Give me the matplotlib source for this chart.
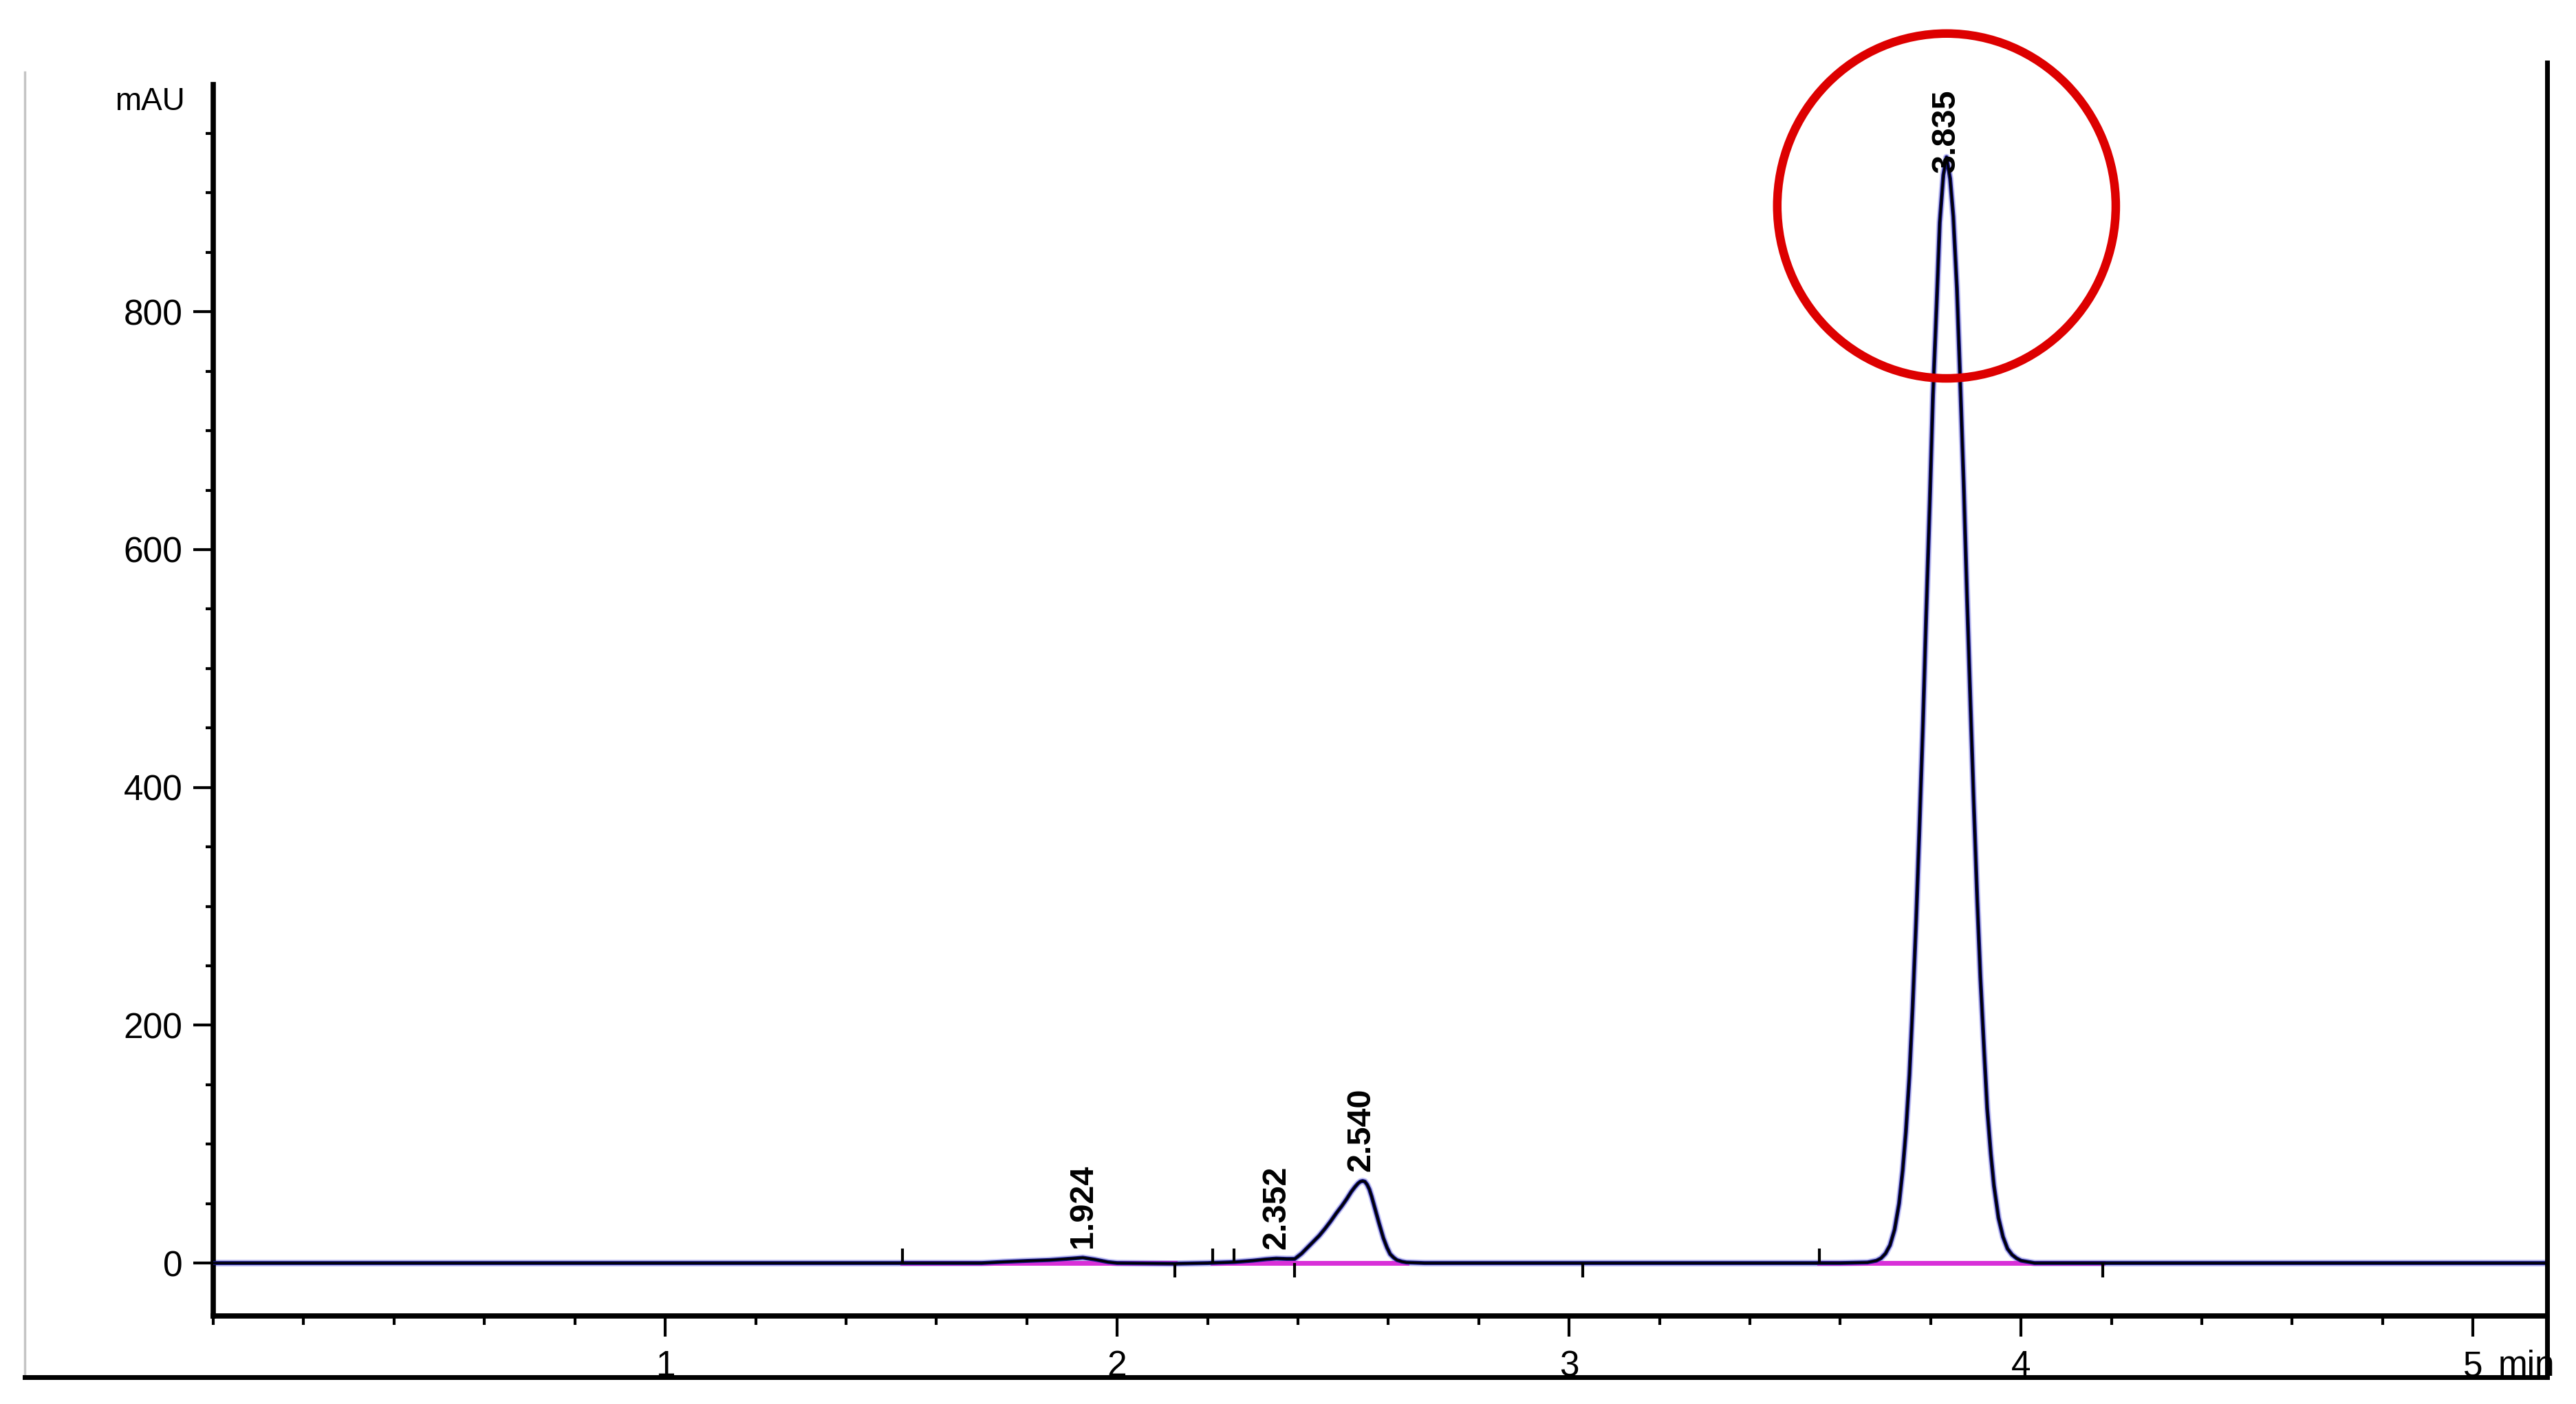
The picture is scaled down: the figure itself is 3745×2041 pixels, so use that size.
import numpy as np
import matplotlib as mpl
mpl.use('agg')
import matplotlib.pyplot as plt
from matplotlib.patches import Ellipse
from matplotlib.lines import Line2D
from matplotlib.ticker import MultipleLocator, FixedLocator

plt.rcParams['font.family'] = ['Liberation Sans', 'DejaVu Sans']

# chromatogram trace (min, mAU)
time_min = [0.00, 1.70, 1.75, 1.80, 1.85, 1.90, 1.924, 1.95, 1.98, 2.00,
            2.127, 2.20, 2.26, 2.30, 2.33, 2.352, 2.375, 2.393,
            2.408, 2.421, 2.434, 2.447, 2.460, 2.472, 2.485, 2.497, 2.508,
            2.518, 2.526, 2.533, 2.538, 2.543, 2.548, 2.553, 2.558, 2.563,
            2.571, 2.579, 2.589, 2.597, 2.604, 2.612, 2.619, 2.63, 2.64, 2.68,
            3.60, 3.66, 3.68, 3.69, 3.70, 3.71, 3.72, 3.73, 3.738, 3.745,
            3.753, 3.76, 3.768, 3.775, 3.783, 3.79, 3.798, 3.805, 3.813,
            3.82, 3.828, 3.835, 3.843, 3.85, 3.858, 3.865, 3.873, 3.88,
            3.888, 3.895, 3.903, 3.91, 3.918, 3.925, 3.933, 3.94, 3.95,
            3.96, 3.97, 3.98, 3.99, 4.00, 4.03, 5.164]
signal_mau = [0, 0, 1.0, 1.8, 2.5, 3.8, 4.5, 3.0, 0.8, 0,
              -0.5, 0, 0.8, 2.0, 3.2, 3.8, 3.5, 3.5,
              8, 13, 18, 23, 29, 35, 42, 48, 54,
              60, 64, 67, 68.5, 69, 68.5, 66, 62, 56,
              45, 34, 21, 13, 7.5, 4.5, 2.5, 1.2, 0.5, 0,
              0, 0.5, 2, 4, 8, 15, 28, 50, 78, 110,
              158, 215, 290, 365, 455, 545, 640, 730, 805,
              875, 915, 930, 912, 880, 820, 745, 655, 565,
              470, 390, 305, 240, 180, 130, 92, 65, 38,
              22, 12, 7, 4, 2, 0, 0]

# labelled peaks
peak_times = [1.924, 2.352, 2.540, 3.835]
peak_labels = ['1.924', '2.352', '2.540', '3.835']
peak_heights = [4.5, 3.8, 69, 930]

# integration baselines (start, end) in min
base_start = [1.525, 2.212, 2.393, 3.553]
base_end = [2.127, 2.393, 2.640, 4.180]

# integration event marks
event_up = [1.525, 2.212, 2.259, 3.553]
event_down = [2.127, 2.393, 3.030, 4.180]

x_major = [1, 2, 3, 4, 5]
y_major = [0, 200, 400, 600, 800]

fig = plt.figure(figsize=(37.45, 20.41), dpi=100)
ax = fig.add_axes([0.0828, 0.0627, 0.9060, 0.8770])

# trace: light blue halo, navy body, black core
ax.plot(time_min, signal_mau, color='#a8a8f0', lw=7, alpha=0.7, zorder=2,
        solid_capstyle='butt')
for s, e in zip(base_start, base_end):
    ax.plot([s, e], [0, 0], color='#d830d8', lw=5, zorder=3)
ax.plot(time_min, signal_mau, color='#161680', lw=4.2, zorder=4)
ax.plot(time_min, signal_mau, color='black', lw=2.2, zorder=5)

ax.vlines(event_up, 0, 12, color='black', lw=3, zorder=5)
ax.vlines(event_down, -12, 0, color='black', lw=3, zorder=5)

for t, lab, h in zip(peak_times, peak_labels, peak_heights):
    off = 10 if h < 500 else -16
    ax.annotate(lab, xy=(t, h), xytext=(0, off), textcoords='offset points',
                rotation=90, ha='center', va='bottom', fontsize=35,
                fontweight='semibold', zorder=6)

# red circle round the main peak
i_main = int(np.argmax(peak_heights))
ax.add_patch(Ellipse((peak_times[i_main], peak_heights[i_main] - 41), 0.749, 290,
                     fill=False, ec='#dd0000', lw=9, clip_on=False, zorder=7))

ax.set_xlim(0, 5.164)
ax.set_ylim(-44.5, 991)

ax.spines['top'].set_visible(False)
ax.spines['right'].set_visible(False)
ax.spines['left'].set_linewidth(5.5)
ax.spines['bottom'].set_linewidth(5.5)

ax.xaxis.set_major_locator(FixedLocator(x_major))
ax.xaxis.set_minor_locator(MultipleLocator(0.2))
ax.yaxis.set_major_locator(FixedLocator(y_major))
ax.yaxis.set_minor_locator(MultipleLocator(50))

ax.tick_params(axis='x', which='major', length=21.6, width=3, pad=14,
               labelsize=37, direction='out')
ax.tick_params(axis='x', which='minor', length=9.4, width=3, direction='out')
ax.tick_params(axis='y', which='major', length=21, width=3, pad=11,
               labelsize=37, direction='out')
ax.tick_params(axis='y', which='minor', length=8, width=3, direction='out')
ax.set_xticklabels([str(v) for v in x_major])
ax.set_yticklabels([str(v) for v in y_major])

ax.annotate('min', xy=(5, 0), xycoords=('data', 'axes fraction'),
            xytext=(26, -35.6), textcoords='offset points',
            ha='left', va='top', fontsize=37)
ax.annotate('mAU', xy=(0, 1), xycoords='axes fraction',
            xytext=(-30, -18), textcoords='offset points',
            ha='right', va='center', fontsize=33)

# outer frame lines
fig.add_artist(Line2D([0.0096, 0.0096], [0.0191, 0.9486], color='#c4c4c4', lw=2.5))
fig.add_artist(Line2D([0.0096, 0.9888], [0.0191, 0.0191], color='black', lw=5))
fig.add_artist(Line2D([0.9888, 0.9888], [0.0191, 0.9554], color='black', lw=5))

fig.savefig('out.png', dpi=100)
